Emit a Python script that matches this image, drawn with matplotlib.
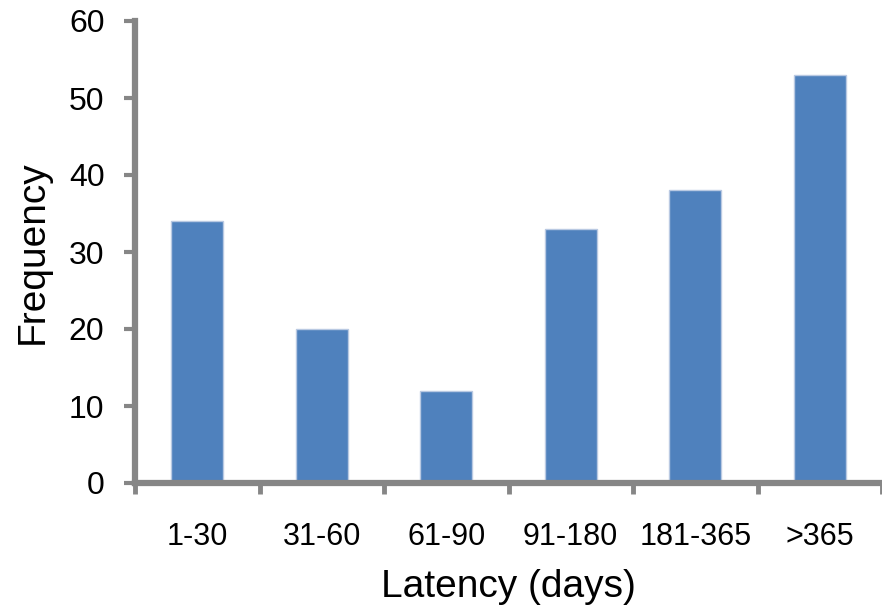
import numpy as np
import matplotlib.pyplot as plt

plt.rcParams['font.family'] = ['Liberation Sans', 'DejaVu Sans']

categories = ['1-30', '31-60', '61-90', '91-180', '181-365', '>365']
frequency = [34, 20, 12, 33, 38, 53]

fig = plt.figure(figsize=(8.82, 6.13), dpi=100)
ax = fig.add_axes([135 / 882, 130 / 613, 1 - 135 / 882, 462 / 613])

x = np.arange(len(categories))
ax.bar(x, frequency, width=0.42, color='#4F81BD', edgecolor='#B9C9E2', linewidth=1, zorder=2)

ax.set_xlim(-0.5, -0.5 + 747 / 126)
ax.set_ylim(0, 60)
ax.set_yticks(np.arange(0, 61, 10))

# ticks at category boundaries, labels at centres
ax.set_xticks(np.arange(-0.5, len(categories), 1))
ax.set_xticklabels([])
ax.set_xticks(x, minor=True)
ax.set_xticklabels(categories, minor=True)

for s in ['top', 'right']:
    ax.spines[s].set_visible(False)
for s in ['left', 'bottom']:
    ax.spines[s].set_color('#868686')
    ax.spines[s].set_linewidth(4.5)

ax.tick_params(axis='y', length=8, width=3, color='#868686', pad=14, labelsize=23)
ax.tick_params(axis='x', which='major', length=8, width=3.5, color='#868686')
ax.tick_params(axis='x', which='minor', length=0, pad=28, labelsize=22)

ax.set_xlabel('Latency (days)', fontsize=28, labelpad=12)
ax.set_ylabel('Frequency', fontsize=28, labelpad=13)

fig.savefig('out.png', dpi=100)
